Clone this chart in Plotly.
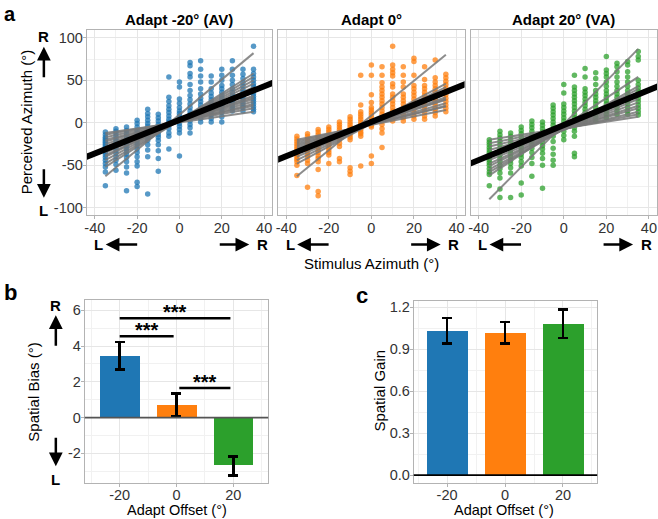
import plotly.graph_objects as go

W, H = 658, 519
FONT = "Liberation Sans, Arial, sans-serif"

# ---------------- data: panel a (perceived azimuth per stimulus azimuth) ----------------
stim = [-35, -30, -25, -20, -15, -10, -5, 0, 5, 10, 15, 20, 25, 30, 35]

resp_av = [
    [-11, -14, -17, -19, -21, -23, -25, -27, -29, -31, -33, -35, -38, -41, -44, -48, -52, -58, -74],
    [-7, -10, -13, -16, -19, -22, -24, -27, -30, -33, -36, -40, -44, -49, -56],
    [-5, -9, -13, -16, -19, -22, -25, -28, -31, -34, -37, -41, -46, -52, -59, -80],
    [3, -1, -5, -9, -12, -15, -18, -21, -24, -27, -31, -35, -40, -46, -51, -70, -75],
    [16, 11, 7, 3, -1, -4, -8, -11, -14, -17, -21, -26, -32, -40, -84],
    [10, 6, 2, -2, -5, -8, -11, -14, -17, -21, -26, -33, -42, -57],
    [54, 30, 25, 20, 16, 12, 8, 4, 1, -3, -7, -12, -16, -31],
    [48, 42, 28, 23, 18, 14, 11, 8, 5, 2, -1, -4, -8, -12, -39],
    [71, 67, 58, 54, 45, 38, 32, 27, 22, 18, 14, 10, 6, 2, -2, -6, -12],
    [73, 63, 55, 48, 40, 34, 29, 25, 21, 17, 13, 9, 5, 1],
    [55, 48, 40, 35, 31, 27, 24, 21, 18, 15, 12, 9, 5, 1],
    [63, 56, 50, 44, 40, 36, 32, 29, 26, 23, 20, 16, 12, 7, 1],
    [73, 63, 56, 50, 45, 40, 36, 32, 29, 26, 23, 20, 17, 14],
    [63, 57, 52, 47, 43, 39, 36, 33, 30, 27, 24, 21, 18, 14],
    [90, 63, 58, 54, 50, 46, 43, 40, 37, 34, 31, 28, 25, 22, 19, 16, 13],
]

resp_a0 = [
    [-16, -19, -22, -25, -28, -31, -34, -37, -40, -43, -46, -50, -62],
    [-13, -16, -19, -22, -25, -28, -31, -34, -37, -40, -44, -48, -76],
    [-8, -11, -14, -17, -20, -23, -26, -29, -32, -35, -39, -42, -46, -55, -81, -86],
    [-5, -8, -11, -14, -17, -20, -23, -26, -29, -32, -35, -38, -48],
    [1, -2, -5, -8, -11, -14, -17, -20, -24, -28, -42, -46],
    [7, 4, 1, -2, -5, -8, -11, -14, -17, -20, -53, -57, -61],
    [56, 21, 13, 10, 7, 4, 1, -2, -5, -8, -11, -13, -16, -51],
    [68, 56, 33, 24, 18, 15, 12, 9, 6, 3, 0, -3, -5, -39, -48],
    [66, 56, 47, 42, 38, 34, 30, 26, 22, 18, 14, 10, 6, 2, -2, -7, -12, -29],
    [90, 68, 63, 59, 55, 46, 42, 34, 30, 26, 22, 18, 14, 10, 6, 2],
    [66, 56, 48, 42, 34, 30, 26, 22, 18, 14, 10, 6, 2],
    [76, 72, 56, 44, 40, 36, 32, 28, 24, 20, 16, 12, 8, 4],
    [66, 51, 44, 40, 36, 32, 28, 24, 20, 16, 12, 8, 4],
    [74, 53, 48, 44, 40, 36, 32, 28, 24, 20, 16, 12, 8],
    [57, 53, 49, 45, 41, 37, 33, 29, 25, 21, 17, 13],
]

resp_va = [
    [-20, -23, -26, -29, -32, -35, -38, -41, -44, -47, -50, -54, -58, -61, -74],
    [-10, -14, -18, -22, -26, -30, -34, -38, -42, -46, -50, -54, -59, -65, -78, -88],
    [-12, -16, -20, -24, -28, -32, -36, -40, -44, -48, -53, -59, -88],
    [-5, -9, -13, -17, -21, -25, -29, -33, -37, -41, -46, -51, -71, -85],
    [2, -2, -6, -10, -14, -18, -22, -26, -30, -35, -41, -48, -63],
    [1, -3, -7, -11, -15, -19, -23, -27, -31, -36, -42, -50, -77],
    [21, 17, 13, 9, 5, 1, -3, -7, -11, -16, -22, -30, -37, -44, -50],
    [45, 35, 22, 18, 14, 10, 6, 2, -2, -6, -10, -15, -20],
    [56, 42, 38, 34, 30, 26, 22, 18, 14, 10, 6, 2, -2, -6, -10, -16, -36, -40],
    [64, 54, 40, 36, 32, 28, 24, 20, 16, 12, 8, 4, 0],
    [59, 52, 45, 38, 34, 30, 26, 22, 18, 14, 10, 6, 2],
    [78, 62, 58, 54, 48, 43, 38, 34, 30, 26, 22, 18, 14, 10, 6],
    [70, 66, 60, 54, 48, 43, 38, 34, 30, 26, 22, 18, 14, 10],
    [72, 68, 60, 54, 48, 43, 38, 34, 30, 26, 22, 18, 14, 10],
    [84, 78, 74, 50, 45, 41, 37, 33, 29, 25, 21, 17, 13, 9],
]

# per-subject fitted lines: value at the leftmost (-35) and rightmost (+35) stimulus
fit_x = [-35, 35]
subj_left_av = [-63, -52, -48, -44, -40, -38, -35, -32, -30, -28, -25, -22, -20, -17, -14, -12]
subj_right_av = [82, 58, 54, 50, 46, 42, 40, 36, 32, 30, 28, 25, 22, 20, 17, 13]
subj_left_a0 = [-63, -48, -44, -40, -36, -32, -30, -28, -26, -24, -22, -20]
subj_right_a0 = [80, 46, 42, 38, 34, 30, 28, 27, 23, 20, 19, 15]
subj_left_va = [-90, -62, -58, -55, -51, -48, -44, -40, -36, -32, -28, -24, -20]
subj_right_va = [87, 54, 43, 40, 36, 32, 28, 24, 20, 17, 13, 10, 7]

# group-level fit (black line)
group_fit_intercept = [3.3, 1.0, -2.7]
group_fit_slope = [0.99, 1.01, 1.03]

panel_titles = ["Adapt -20\u00b0 (AV)", "Adapt 0\u00b0", "Adapt 20\u00b0 (VA)"]
colors = ["#1f77b4", "#ff7f0e", "#2ca02c"]

a_xticks = [-40, -20, 0, 20, 40]
a_yticks = [-100, -50, 0, 50, 100]

# ---------------- data: panels b and c ----------------
adapt_offset = [-20, 0, 20]
bias_mean = [3.44, 0.71, -2.69]
bias_lo = [2.69, 0.10, -3.25]
bias_hi = [4.23, 1.36, -2.17]
gain_mean = [1.030, 1.014, 1.077]
gain_lo = [0.943, 0.941, 0.979]
gain_hi = [1.124, 1.096, 1.185]
b_yticks = [-2, 0, 2, 4, 6]
c_yticks = [0.0, 0.3, 0.6, 0.9, 1.2]

sig_x0 = [-20, -20, 1]
sig_x1 = [19, -1, 19]
sig_y = [5.55, 4.55, 1.65]
sig_label = ["***", "***", "***"]

# ---------------- layout geometry (pixels) ----------------
a_left = [85, 277, 470]
a_right = [271, 464, 657]
a_top, a_bot = 28, 214
b_box = (83, 267, 300, 484)
c_box = (413, 597, 301, 484)


def pxx(x):
    return x / W


def pxy(y):
    return 1 - y / H


def lab(v, fmt="{:g}"):
    return fmt.format(v)


fig = go.Figure()

resp_sets = [resp_av, resp_a0, resp_va]
subj_sets = [(subj_left_av, subj_right_av), (subj_left_a0, subj_right_a0), (subj_left_va, subj_right_va)]
xr_a = [-43.8, 43.8]
yr_a = [-108.3, 109.4]

for i in range(3):
    xa = "x" if i == 0 else f"x{i+1}"
    ya = "y" if i == 0 else f"y{i+1}"
    xs, ys = [], []
    for s, col in zip(stim, resp_sets[i]):
        for v in col:
            xs.append(s)
            ys.append(v)
    fig.add_trace(go.Scatter(x=xs, y=ys, mode="markers", xaxis=xa, yaxis=ya,
                             marker=dict(color=colors[i], size=5.5, opacity=0.75, line=dict(width=0)),
                             showlegend=False, hoverinfo="skip"))
    lx, ly = [], []
    for L, R in zip(*subj_sets[i]):
        lx += [fit_x[0], fit_x[1], None]
        ly += [L, R, None]
    fig.add_trace(go.Scatter(x=lx, y=ly, mode="lines", xaxis=xa, yaxis=ya,
                             line=dict(color="rgba(120,120,120,0.85)", width=2),
                             showlegend=False, hoverinfo="skip"))
    gx = [xr_a[0] - 5, xr_a[1] + 5]
    gy = [group_fit_intercept[i] + group_fit_slope[i] * g for g in gx]
    fig.add_trace(go.Scatter(x=gx, y=gy, mode="lines", xaxis=xa, yaxis=ya,
                             line=dict(color="black", width=6),
                             showlegend=False, hoverinfo="skip"))

# panel b bars (axes x4/y4)
fig.add_trace(go.Bar(x=adapt_offset, y=bias_mean, width=14, xaxis="x4", yaxis="y4",
                     marker=dict(color=colors, line=dict(width=0)),
                     error_y=dict(type="data", symmetric=False,
                                  array=[h - m for h, m in zip(bias_hi, bias_mean)],
                                  arrayminus=[m - l for m, l in zip(bias_mean, bias_lo)],
                                  color="black", thickness=2.5, width=5),
                     showlegend=False, hoverinfo="skip"))
# panel c bars (axes x5/y5)
fig.add_trace(go.Bar(x=adapt_offset, y=gain_mean, width=14, xaxis="x5", yaxis="y5",
                     marker=dict(color=colors, line=dict(width=0)),
                     error_y=dict(type="data", symmetric=False,
                                  array=[h - m for h, m in zip(gain_hi, gain_mean)],
                                  arrayminus=[m - l for m, l in zip(gain_mean, gain_lo)],
                                  color="black", thickness=2.5, width=5),
                     showlegend=False, hoverinfo="skip"))

GRID = "#e6e6e6"
MINOR = "#f1f1f1"
BORDER = "#b3b3b3"
TICKFONT = dict(family=FONT, size=14.5, color="#333333")


def axis_common(domain, rng, tickvals, minor_dtick, showlabels=True, fmt="{:g}", standoff=-3):
    d = dict(domain=domain, range=rng, tickmode="array", tickvals=tickvals,
             ticktext=[lab(v, fmt) for v in tickvals],
             showgrid=True, gridcolor=GRID, gridwidth=1,
             minor=dict(showgrid=True, gridcolor=MINOR, gridwidth=1, dtick=minor_dtick, tick0=0, ticks=""),
             zeroline=False, showline=True, mirror=True, linecolor=BORDER, linewidth=1,
             ticks="outside" if showlabels else "", ticklen=3, tickcolor=BORDER,
             ticklabelstandoff=standoff,
             showticklabels=showlabels, tickfont=TICKFONT, fixedrange=True)
    return d


layout = dict(width=W, height=H, margin=dict(l=0, r=0, t=0, b=0),
              paper_bgcolor="white", plot_bgcolor="white", showlegend=False, bargap=0)

ydom_a = [pxy(a_bot), pxy(a_top)]
for i in range(3):
    xk = "xaxis" if i == 0 else f"xaxis{i+1}"
    yk = "yaxis" if i == 0 else f"yaxis{i+1}"
    xa = "x" if i == 0 else f"x{i+1}"
    ya = "y" if i == 0 else f"y{i+1}"
    layout[xk] = axis_common([pxx(a_left[i]), pxx(a_right[i])], xr_a, a_xticks, 10)
    layout[xk]["anchor"] = ya
    layout[yk] = axis_common(ydom_a, yr_a, a_yticks, 25, showlabels=(i == 0))
    layout[yk]["anchor"] = xa

layout["xaxis4"] = axis_common([pxx(b_box[0]), pxx(b_box[1])], [-32.3, 32.3], adapt_offset, 10, standoff=-5)
layout["xaxis4"]["anchor"] = "y4"
layout["yaxis4"] = axis_common([pxy(b_box[3]), pxy(b_box[2])], [-3.67, 6.56], b_yticks, 1)
layout["yaxis4"]["anchor"] = "x4"
layout["xaxis5"] = axis_common([pxx(c_box[0]), pxx(c_box[1])], [-31.5, 31.8], adapt_offset, 10, standoff=-5)
layout["xaxis5"]["anchor"] = "y5"
layout["yaxis5"] = axis_common([pxy(c_box[3]), pxy(c_box[2])], [-0.057, 1.243], c_yticks, 0.15, fmt="{:.1f}")
layout["yaxis5"]["anchor"] = "x5"

fig.update_layout(**layout)

# zero lines
fig.add_shape(type="line", xref="x4 domain", yref="y4", x0=0, x1=1, y0=0, y1=0,
              line=dict(color="#555555", width=1.8), layer="above")
fig.add_shape(type="line", xref="x5 domain", yref="y5", x0=0, x1=1, y0=0, y1=0,
              line=dict(color="black", width=1.8), layer="above")

# significance brackets
for x0, x1, y, s in zip(sig_x0, sig_x1, sig_y, sig_label):
    fig.add_shape(type="line", xref="x4", yref="y4", x0=x0, x1=x1, y0=y, y1=y,
                  line=dict(color="black", width=2.5))
    fig.add_annotation(x=(x0 + x1) / 2, y=y, xref="x4", yref="y4", text=f"<b>{s}</b>",
                       showarrow=False, yanchor="middle", yshift=6,
                       font=dict(family=FONT, size=20, color="black"))


def text(t, x, y, size=15, bold=False, angle=0, xanchor="center", yanchor="middle", color="black"):
    fig.add_annotation(x=pxx(x), y=pxy(y), xref="paper", yref="paper",
                       text=f"<b>{t}</b>" if bold else t, showarrow=False, textangle=angle,
                       xanchor=xanchor, yanchor=yanchor,
                       font=dict(family=FONT, size=size, color=color))


def arrow(hx, hy, tx, ty):
    fig.add_annotation(x=pxx(hx), y=pxy(hy), xref="paper", yref="paper", text="",
                       showarrow=True, ax=tx - hx, ay=ty - hy, axref="pixel", ayref="pixel",
                       arrowhead=2, arrowsize=1.1, arrowwidth=2.5, arrowcolor="black")


# panel letters
text("a", 0, 12, size=20, bold=True, xanchor="left")
text("b", 0, 292, size=22, bold=True, xanchor="left")
text("c", 361, 295, size=22, bold=True)

# panel a titles
for i in range(3):
    text(panel_titles[i], (a_left[i] + a_right[i]) / 2, 18, size=15, bold=True)

# axis titles
text("Perceived Azimuth (\u00b0)", 24, 121, size=15, angle=-90)
text("Stimulus Azimuth (\u00b0)", 371, 263, size=15)
text("Spatial Bias (\u00b0)", 32, 392, size=15, angle=-90)
text("Adapt Offset (\u00b0)", 176, 511, size=14.5)
text("Spatial Gain", 379, 391, size=15, angle=-90)
text("Adapt Offset (\u00b0)", 504, 511, size=14.5)

# direction arrows panel a
text("R", 42, 35, size=15, bold=True)
arrow(42, 45, 42, 77)
arrow(42, 197, 42, 167)
text("L", 42, 210, size=15, bold=True)
for i in range(3):
    off = a_left[i] - a_left[0]
    text("L", 97 + off, 244, size=15, bold=True)
    arrow(104 + off, 244, 137 + off, 244)
    arrow(248 + off, 244, 217 + off, 244)
    text("R", 261 + off, 244, size=15, bold=True)

# direction arrows panel b
text("R", 54, 305, size=15, bold=True)
arrow(54, 315, 54, 347)
arrow(54, 467, 54, 437)
text("L", 54, 480, size=15, bold=True)

fig.write_html("out.html", config={"displayModeBar": False},
               post_script="document.body.style.margin='0px';document.body.style.overflow='hidden';")
